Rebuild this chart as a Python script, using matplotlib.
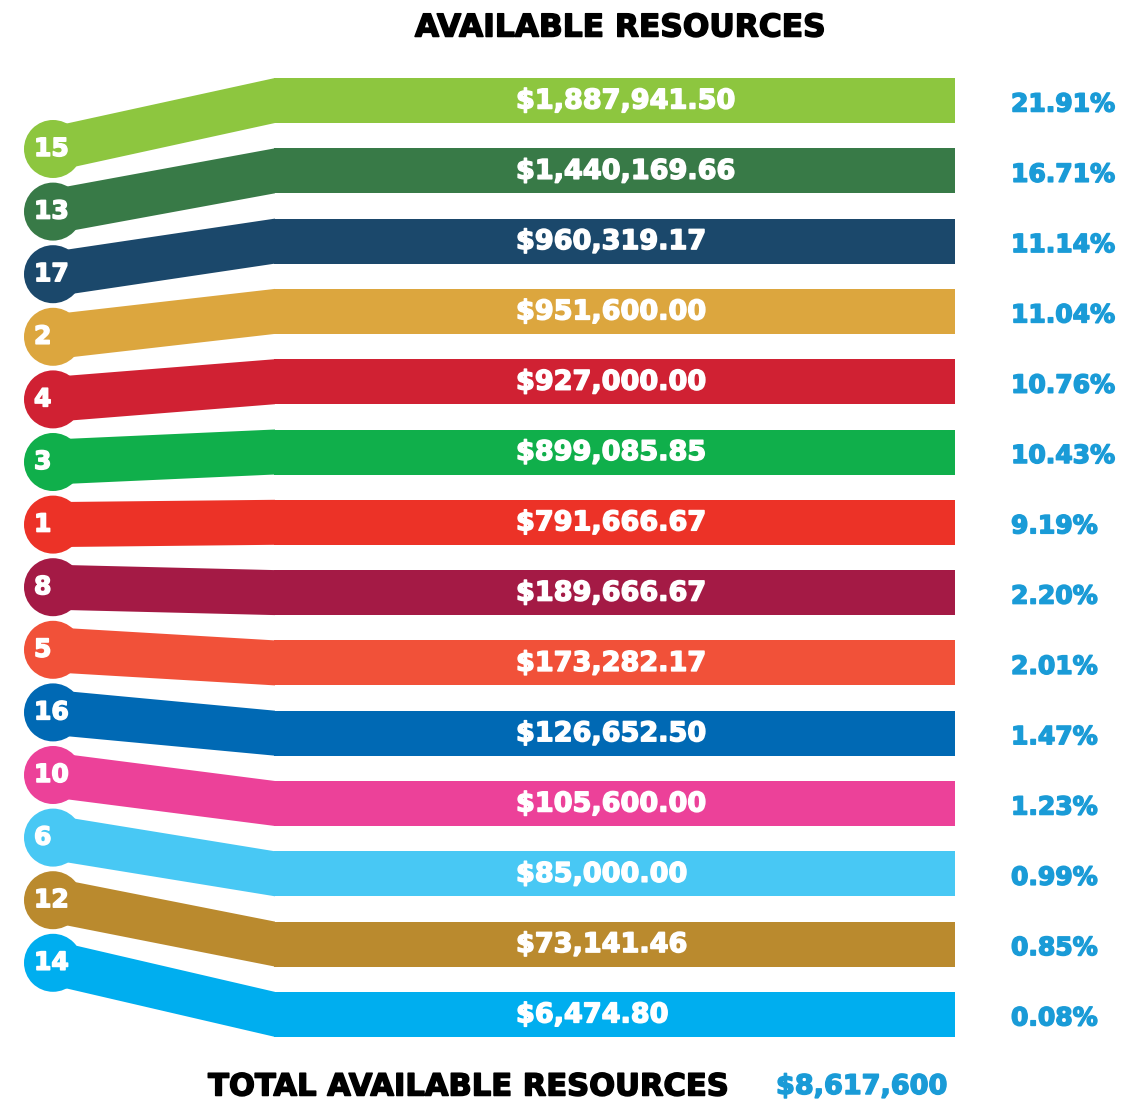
import matplotlib
matplotlib.use('Agg')
import matplotlib.pyplot as plt
import matplotlib.patheffects as pe
from matplotlib.patches import Rectangle, Polygon, Circle

# SDG goals, funds and shares, top to bottom
goals = ['15', '13', '17', '2', '4', '3', '1', '8', '5', '16', '10', '6', '12', '14']
amounts = ['$1,887,941.50', '$1,440,169.66', '$960,319.17', '$951,600.00', '$927,000.00',
           '$899,085.85', '$791,666.67', '$189,666.67', '$173,282.17', '$126,652.50',
           '$105,600.00', '$85,000.00', '$73,141.46', '$6,474.80']
shares = ['21.91%', '16.71%', '11.14%', '11.04%', '10.76%', '10.43%', '9.19%',
          '2.20%', '2.01%', '1.47%', '1.23%', '0.99%', '0.85%', '0.08%']
colors = ['#8DC63F', '#387A47', '#1B486B', '#DCA63E', '#D02133', '#10AF4B', '#EC3227',
          '#A41A45', '#F15139', '#0069B4', '#EC4199', '#48C8F4', '#BA8A2E', '#00AEEF']
total_label = '$8,617,600'

blue = '#1A9BD7'
font = 'DejaVu Sans'


def heavy(col):
    # thicken the bold glyphs a little
    return [pe.withStroke(linewidth=1.1, foreground=col)]


fig = plt.figure(figsize=(11.26, 11.04), dpi=100)
ax = fig.add_axes([0, 0, 1, 1])
ax.set_xlim(0, 1126)
ax.set_ylim(1104, 0)
ax.set_aspect('equal')
ax.axis('off')

# layout
circ_x, circ_r = 53, 29
circ_y0, circ_step = 149, 62.6
bar_x0, bar_x1 = 275, 955
bar_y0, bar_step = 100.5, 70.3
half_h = 22.5

for i, g in enumerate(goals):
    cy = circ_y0 + i * circ_step
    by = bar_y0 + i * bar_step
    c = colors[i]
    # ribbon from the circle to the bar
    ax.add_patch(Polygon([(circ_x, cy - half_h), (bar_x0, by - half_h),
                          (bar_x0, by + half_h), (circ_x, cy + half_h)],
                         closed=True, color=c, lw=0))
    ax.add_patch(Rectangle((bar_x0 - 1, by - half_h), bar_x1 - bar_x0 + 1, 2 * half_h,
                           color=c, lw=0))
    ax.add_patch(Circle((circ_x, cy), circ_r, color=c, lw=0))
    ax.text(34, cy, g, color='white', fontsize=18, fontweight='bold',
            family=font, ha='left', va='center', path_effects=heavy('white'))
    ax.text(516, by + 1, amounts[i], color='white', fontsize=19.5, fontweight='bold',
            family=font, ha='left', va='center', path_effects=heavy('white'))
    ax.text(1011, by + 4, shares[i], color=blue, fontsize=18, fontweight='bold',
            family=font, ha='left', va='center', path_effects=heavy(blue))

ax.text(620, 28, 'AVAILABLE RESOURCES', fontsize=22.5, fontweight='bold',
        family=font, ha='center', va='center', color='black', path_effects=heavy('black'))
ax.text(727, 1087, 'TOTAL AVAILABLE RESOURCES', fontsize=22, fontweight='bold',
        family=font, ha='right', va='center', color='black', path_effects=heavy('black'))
ax.text(776, 1087, total_label, fontsize=19.5, fontweight='bold',
        family=font, ha='left', va='center', color=blue, path_effects=heavy(blue))

fig.savefig('out.png', dpi=100)
